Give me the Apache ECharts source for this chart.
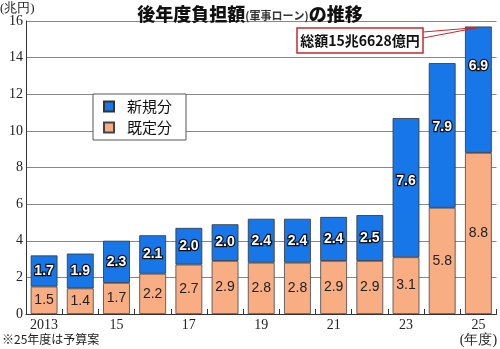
<!DOCTYPE html>
<html><head><meta charset="utf-8">
<script src="https://cdn.jsdelivr.net/npm/echarts@6/dist/echarts.min.js"></script>
<style>html,body{margin:0;padding:0;background:#fff}#c{width:500px;height:349px}</style>
</head><body><div id="c"></div>
<script>
var categories = ['2013','14','15','16','17','18','19','20','21','22','23','24','25'];
var kitei = [1.5,1.4,1.7,2.2,2.7,2.9,2.8,2.8,2.9,2.9,3.1,5.8,8.8];
var shinki = [1.7,1.9,2.3,2.1,2.0,2.0,2.4,2.4,2.4,2.5,7.6,7.9,6.9];
var yTicks = [0,2,4,6,8,10,12,14,16];
var totalText = '総額15兆6628億円';

var chart = echarts.init(document.getElementById('c'));
var sans = '"Noto Sans CJK JP", sans-serif';
var serif = '"Liberation Serif", "DejaVu Serif", serif';
var labelLift = { 10: -7, 11: -8, 12: -24 };
var shinkiItems = shinki.map(function (v, i) {
  return labelLift[i] ? { value: v, label: { offset: [0, labelLift[i]] } } : v;
});
var option = {
  animation: false,
  title: {
    text: '{a|後年度負担額}{b|(軍事ローン)}{a|の推移}',
    left: 'center', top: 0,
    textStyle: { rich: {
      a: { fontSize: 18, fontWeight: 900, fontFamily: sans, color: '#111' },
      b: { fontSize: 11, fontFamily: sans, color: '#333', padding: [3,0,0,0] }
    } }
  },
  legend: {
    orient: 'vertical', left: 93, top: 94,
    data: ['新規分','既定分'],
    backgroundColor: '#fff', borderColor: '#555', borderWidth: 1,
    padding: [5, 14, 5, 10], itemGap: 6, itemWidth: 10, itemHeight: 10,
    icon: 'rect',
    textStyle: { fontSize: 15, fontFamily: sans, color: '#111', padding: [0,0,0,8] }
  },
  grid: { left: 26, right: 2, top: 21, bottom: 35 },
  xAxis: {
    type: 'category', data: categories,
    axisLine: { lineStyle: { color: '#333' } },
    axisTick: { show: true, inside: true, length: 5, interval: 0, lineStyle: { color: '#333' } },
    axisLabel: {
      interval: 0, margin: 4, fontFamily: serif, fontSize: 14, color: '#222', lineHeight: 15,
      formatter: function (v, i) { if (i % 2) return ''; return v === '25' ? '25\n(年度)' : v; }
    }
  },
  yAxis: {
    type: 'value', min: yTicks[0], max: yTicks[yTicks.length-1], interval: 2,
    axisLine: { show: true, lineStyle: { color: '#333' } },
    axisTick: { show: false },
    splitLine: { lineStyle: { color: '#888' } },
    axisLabel: { margin: 3, fontFamily: serif, fontSize: 14, color: '#222' }
  },
  series: [
    { name: '既定分', type: 'bar', stack: 't', data: kitei, barWidth: '74%',
      itemStyle: { color: '#f9ad82', borderColor: '#444', borderWidth: 0.8 },
      label: { show: true, position: 'inside', fontSize: 14, fontFamily: '"Liberation Sans", Arial, sans-serif', color: '#222',
        formatter: function (p) { return p.value.toFixed(1); } } },
    { name: '新規分', type: 'bar', stack: 't', data: shinkiItems,
      itemStyle: { color: '#1877e8', borderColor: '#333', borderWidth: 0.8 },
      label: { show: true, position: 'inside', fontSize: 14, fontWeight: 'bold', fontFamily: '"Liberation Sans", Arial, sans-serif',
        color: '#fff', textBorderColor: '#111', textBorderWidth: 2.5,
        formatter: function (p) { return p.value.toFixed(1); } } }
  ]
};
chart.setOption(option);

var last = categories.length - 1;
var tip = chart.convertToPixel({ xAxisIndex: 0, yAxisIndex: 0 }, [categories[last], kitei[last] + shinki[last]]);
if (!tip || isNaN(tip[0])) { tip = [480, 28]; }
chart.setOption({
  graphic: [
    { type: 'text', left: 0, top: 2, style: { text: '(兆円)', font: '13px ' + serif, fill: '#222' } },
    { type: 'text', left: 2, top: 333, style: { text: '※25年度は予算案', font: '12px ' + sans, fill: '#222' } },
    { type: 'line', shape: { x1: 423, y1: 32, x2: tip[0], y2: tip[1] + 1 },
      style: { stroke: '#c8282e', lineWidth: 1 }, z: 100 },
    { type: 'line', shape: { x1: 423, y1: 38, x2: tip[0], y2: tip[1] + 1 },
      style: { stroke: '#c8282e', lineWidth: 1 }, z: 100 },
    { type: 'rect', shape: { x: 297, y: 28, width: 126, height: 25 },
      style: { fill: '#fff', stroke: '#c8282e', lineWidth: 1.5 }, z: 101 },
    { type: 'text', x: 360, y: 40.5, z: 102,
      style: { text: totalText, font: 'bold 14px ' + sans, fill: '#111', align: 'center', verticalAlign: 'middle' } }
  ]
});
</script></body></html>
